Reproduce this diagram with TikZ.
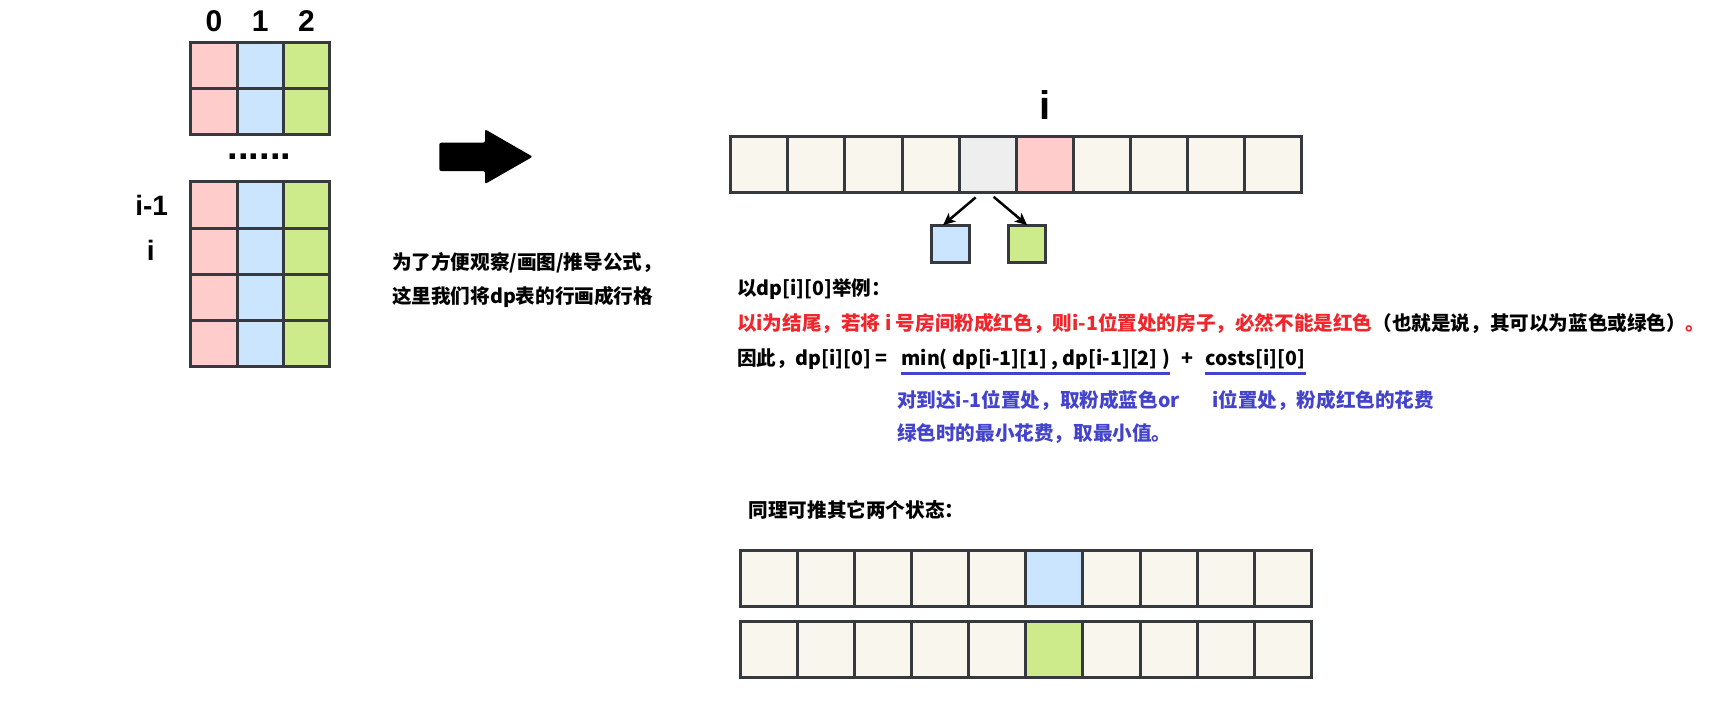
\documentclass[tikz,border=0pt]{standalone}
\usepackage{fontspec}
\setmainfont{Liberation Sans}
\newfontfamily\cjk{Noto Sans CJK SC}
\usetikzlibrary{arrows.meta,positioning,calc}
\definecolor{redc}{HTML}{FFCCCC}
\definecolor{bluec}{HTML}{CCE5FF}
\definecolor{greenc}{HTML}{CDEB8B}
\definecolor{emptyc}{HTML}{F9F7ED}
\definecolor{grayc}{HTML}{EEEEEE}
\definecolor{edgec}{HTML}{36393D}
\definecolor{redtxt}{HTML}{F0262C}
\definecolor{bluetxt}{HTML}{4343CC}
\begin{document}
\begin{tikzpicture}[x=0.5pt,y=-0.5pt,
 cell/.style={draw=edgec,line width=1.5pt,minimum width=23.15pt,minimum height=23.15pt,inner sep=0pt,outer sep=0pt},
 house/.style={cell,minimum width=28.55pt,minimum height=28.4pt,fill=emptyc},
 idx/.style={inner sep=0pt,font=\bfseries\fontsize{15pt}{18pt}\selectfont},
 note/.style={anchor=base west,inner sep=0pt,font=\cjk\bfseries\fontsize{9.8pt}{12pt}\selectfont},
 uline/.style={draw=bluetxt,line width=1.5pt}]
\useasboundingbox (0,0) rectangle (1736,702);
\foreach \c/\col in {0/redc,1/bluec,2/greenc}{
  \node[idx] (h\c) at (213.9+46.3*\c,20.7) {\c};
  \foreach \r in {0,1}
    \node[cell,fill=\col] (a\r\c) at (213.9+46.3*\c,65.5+46.3*\r) {};
  \foreach \r in {0,...,3}
    \node[cell,fill=\col] (b\r\c) at (213.9+46.3*\c,204.9+46.3*\r) {};}
\node[idx,font=\bfseries\fontsize{19pt}{20pt}\selectfont] (dots) at (259.5,157) {......};
\node[idx,font=\bfseries\fontsize{14pt}{16pt}\selectfont] (prev) at (151.7,205) {i-1};
\node[idx,font=\bfseries\fontsize{14pt}{16pt}\selectfont] (cur) at (150.7,250.7) {i};
\fill[rounded corners=1pt] (439.3,142.7) -- (485,142.7) -- (485,129.3) -- (532.7,156.7)
  -- (485,184) -- (485,171) -- (439.3,171) -- cycle;
\node[note] (why) at (391.7,269.7) {为了方便观察/画图/推导公式，};
\node[note] (how) at (391.7,303.7) {这里我们将dp表的行画成行格};
\foreach \k/\col in {0/emptyc,1/emptyc,2/emptyc,3/emptyc,4/grayc,5/redc,6/emptyc,7/emptyc,8/emptyc,9/emptyc}
  \node[house,fill=\col] (p\k) at (759.25+57.1*\k,164.4) {};
\node[idx,font=\bfseries\fontsize{20pt}{24pt}\selectfont] (ilab) at (1044.9,105) {i};
\node[cell,minimum width=18.75pt,minimum height=18.85pt,fill=bluec] (pb) at (950.3,243.9) {};
\node[cell,minimum width=18.75pt,minimum height=18.85pt,fill=greenc] (pg) at (1027.1,243.9) {};
\draw[line width=1.25pt,-{Stealth[length=6pt,width=5.5pt,inset=1.5pt]}] ([xshift=-6pt,yshift=-2.3pt]p4.south) -- ([xshift=-3.6pt]pb.north);
\draw[line width=1.25pt,-{Stealth[length=6pt,width=5.5pt,inset=1.5pt]}] ([xshift=3pt,yshift=-2pt]p4.south) -- (pg.north);
\node[note] (ex) at (736.7,295.3) {以dp[i][0]举例：};
\node[note,text=redtxt] (rule) at (736.7,330.3) {以i为结尾，若将 i 号房间粉成红色，则i-1位置处的房子，必然不能是红色\textcolor{black}{（也就是说，其可以为蓝色或绿色）}。};
\node[note] (thus) at (736.7,365.3) {因此，dp[i][0] =};
\node[note] (minpart) at (901,365.3) {min( dp[i-1][1] , dp[i-1][2] )};
\node[note] (plus) at (1181,365.3) {+};
\node[note] (cost) at (1205,365.3) {costs[i][0]};
\draw[uline] ([yshift=-4.1pt]minpart.base west) -- ([yshift=-4.1pt]minpart.base east);
\draw[uline] ([yshift=-4.3pt]cost.base west) -- ([yshift=-4.3pt]cost.base east);
\node[note,text=bluetxt] (why1) at (896.7,407) {对到达i-1位置处，取粉成蓝色or};
\node[note,text=bluetxt] (why2) at (1211.7,407) {i位置处，粉成红色的花费};
\node[note,text=bluetxt] (why3) at (896.7,440.3) {绿色时的最小花费，取最小值。};
\node[note] (same) at (748.3,517) {同理可推其它两个状态：};
\foreach \n/\y/\hl in {q/578.4/bluec,s/649.5/greenc}
  \foreach \k in {0,...,9}{
    \ifnum\k=5 \colorlet{cellc}{\hl}\else\colorlet{cellc}{emptyc}\fi
    \node[house,fill=cellc] (\n\k) at (768.9+57.1*\k,\y) {};}
\end{tikzpicture}
\end{document}
